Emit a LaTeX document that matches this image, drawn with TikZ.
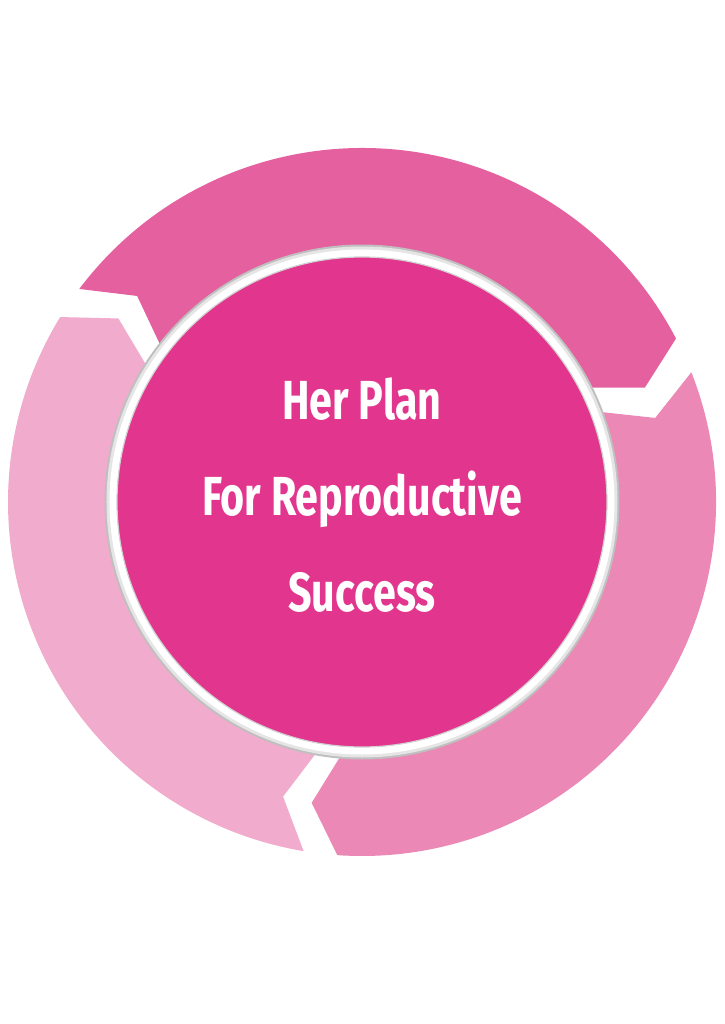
\documentclass[tikz,border=0pt]{standalone}
\usepackage{fontspec}
\usepackage{xcolor}
\usetikzlibrary{positioning}
\newfontfamily\titlefont[FakeStretch=0.75]{Fira Sans}
\definecolor{hubpink}{HTML}{E2368E}
\definecolor{toppink}{HTML}{E5609F}
\definecolor{midpink}{HTML}{EB88B6}
\definecolor{lightpink}{HTML}{F1ABCC}

\begin{document}
\begin{tikzpicture}
		[x=0.5pt,y=0.5pt,
		hub/.style={circle,draw=gray!35,fill=hubpink,line width=0.6pt,inner sep=0pt, minimum size=245pt},
		titletext/.style={text=white,font=\titlefont\bfseries\fontsize{27.5}{31}\selectfont,inner sep=0pt, text height=19pt, text depth=5.5pt},
		piece/.style={draw=none}]
		\useasboundingbox (-362,-522) rectangle (362,502);
		\coordinate (centre) at (0,0);

		% three ring pieces, clockwise
		\fill [piece, toppink] (143:354) arc[start angle=143, end angle=27.5, radius=354] -- (22:305) -- (27.5:248)
			arc[start angle=27.5, end angle=143, radius=248] -- (137.5:305) -- cycle;
		\fill [piece, midpink] (21.5:354) arc[start angle=21.5, end angle=-94, radius=354] -- (-99.5:305) -- (-94:248)
			arc[start angle=-94, end angle=21.5, radius=248] -- (16:305) -- cycle;
		\fill [piece, lightpink] (-99.5:354) arc[start angle=-99.5, end angle=-211.5, radius=354] -- (-217:305) -- (-211.5:248)
			arc[start angle=-211.5, end angle=-99.5, radius=248] -- (-105:305) -- cycle;

		% rim
		\fill [gray!50] (centre) circle[radius=257.5];
		\fill [gray!20] (centre) circle[radius=255.5];
		\fill [white] (centre) circle[radius=252.5];

		\node [hub] (hub) at (centre) {};
		\node [titletext] (line2) at (hub) {For Reproductive};
		\node [titletext] (line1) [above=23pt of line2] {Her Plan};
		\node [titletext] (line3) [below=23pt of line2] {Success};

	\end{tikzpicture}
\end{document}
